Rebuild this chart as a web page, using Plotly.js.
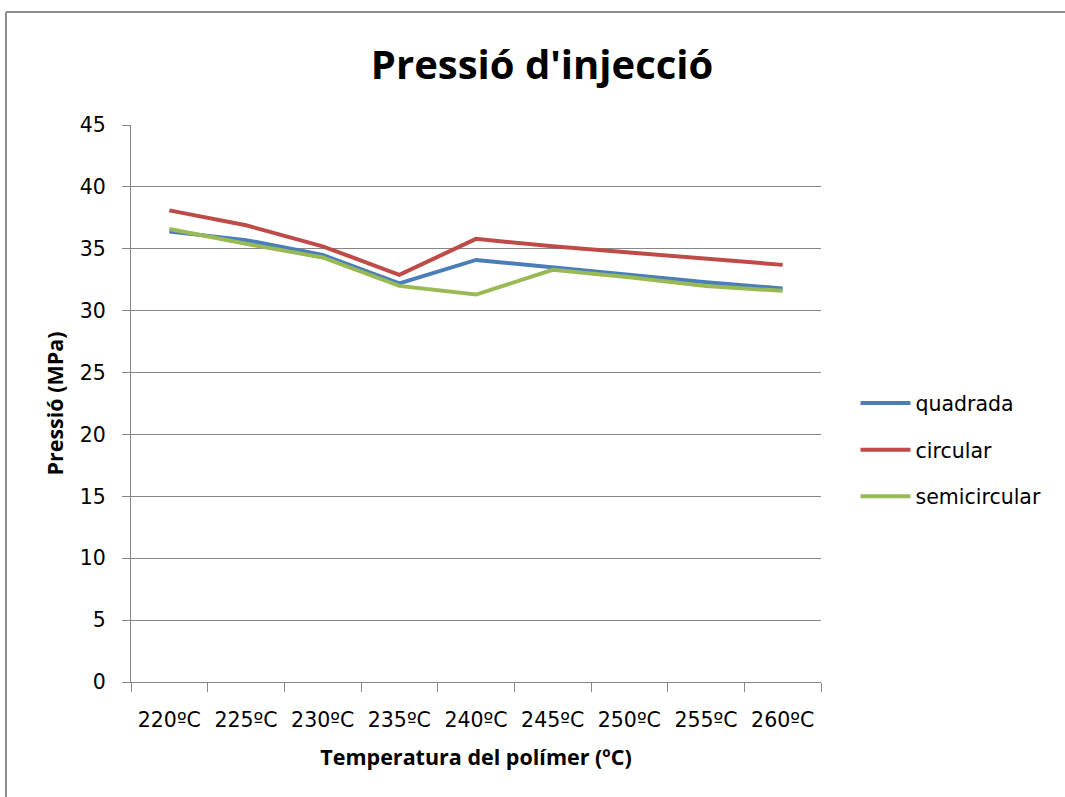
<!DOCTYPE html>
<html>
<head>
<meta charset="utf-8">
<script src="https://cdn.plot.ly/plotly-3.0.1.min.js"></script>
<style>
  html, body { margin: 0; padding: 0; background: #ffffff; }
  #chart { width: 1065px; height: 797px; }
</style>
</head>
<body>
<div id="chart"></div>
<script>
// Injection pressure (MPa) against polymer temperature, for three section shapes
const temperatures = ['220ºC', '225ºC', '230ºC', '235ºC', '240ºC', '245ºC', '250ºC', '255ºC', '260ºC'];
const quadrada     = [36.4, 35.7, 34.5, 32.2, 34.1, 33.5, 32.9, 32.3, 31.8];
const circular     = [38.1, 36.9, 35.2, 32.9, 35.8, 35.2, 34.7, 34.2, 33.7];
const semicircular = [36.6, 35.4, 34.3, 32.0, 31.3, 33.3, 32.7, 32.0, 31.6];
const yTicks = [0, 5, 10, 15, 20, 25, 30, 35, 40, 45];

const seriesNames  = ['quadrada', 'circular', 'semicircular'];
const seriesValues = [quadrada, circular, semicircular];
const seriesColors = ['#4a7ebb', '#be4b48', '#98b954'];

const TITLE_FONT = 'Open Sans, Noto Sans, sans-serif';
const TEXT_FONT = 'DejaVu Sans, Verdana, sans-serif';

const traces = seriesNames.map((name, i) => ({
  type: 'scatter',
  mode: 'lines',
  name: name,
  legendgroup: name,
  x: temperatures,
  y: seriesValues[i],
  line: { color: seriesColors[i], width: 4 },
  hoverinfo: 'x+y+name'
}));

const gridColor = '#868686';

const layout = {
  width: 1065,
  height: 797,
  margin: { l: 131, r: 244, t: 125, b: 115, pad: 0 },
  paper_bgcolor: '#ffffff',
  plot_bgcolor: '#ffffff',
  font: { family: TEXT_FONT, color: '#000000', size: 20 },
  title: {
    text: "<b>Pressió d'injecció</b>",
    font: { family: TITLE_FONT, size: 40, color: '#000000' },
    x: 0.509, xanchor: 'center', xref: 'container',
    y: 0.918, yanchor: 'middle', yref: 'container'
  },
  xaxis: {
    type: 'category',
    range: [-0.5, temperatures.length - 0.5],
    tickson: 'boundaries',
    ticks: 'outside',
    ticklen: 9,
    tickwidth: 1,
    tickcolor: gridColor,
    showline: true,
    linecolor: gridColor,
    linewidth: 1,
    showgrid: false,
    zeroline: false,
    tickfont: { family: TEXT_FONT, size: 20.5, color: '#000000' },
    ticklabelstandoff: 19,
    title: {
      text: '<b>Temperatura del polímer (ºC)</b>',
      font: { family: TITLE_FONT, size: 21.5, color: '#000000' },
      standoff: 19
    },
    fixedrange: true
  },
  yaxis: {
    range: [0, 45],
    tickvals: yTicks,
    ticktext: yTicks.map(String),
    ticks: 'outside',
    ticklen: 8,
    tickwidth: 1,
    tickcolor: gridColor,
    showline: true,
    linecolor: gridColor,
    linewidth: 1,
    showgrid: true,
    gridcolor: gridColor,
    gridwidth: 1,
    zeroline: false,
    tickfont: { family: TEXT_FONT, size: 20.5, color: '#000000' },
    ticklabelstandoff: 12,
    title: {
      text: '<b>Pressió (MPa)</b>',
      font: { family: TITLE_FONT, size: 21.5, color: '#000000' },
      standoff: 10
    },
    fixedrange: true
  },
  showlegend: true,
  legend: {
    x: 1.05, xanchor: 'left',
    y: 0.417, yanchor: 'middle',
    font: { family: TEXT_FONT, size: 20.5, color: '#000000' },
    tracegroupgap: 17,
    itemwidth: 50,
    bgcolor: 'rgba(0,0,0,0)'
  },
  // outer chart frame (top and left edges)
  shapes: [
    { type: 'line', xref: 'paper', yref: 'paper', x0: -0.1812, x1: 1.36, y0: 1.2029, y1: 1.2029,
      line: { color: '#8c8c8c', width: 2 } },
    { type: 'line', xref: 'paper', yref: 'paper', x0: -0.1812, x1: -0.1812, y0: 1.2029, y1: -0.21,
      line: { color: '#8c8c8c', width: 2 } }
  ]
};

Plotly.newPlot('chart', traces, layout, { displayModeBar: false, staticPlot: false });
</script>
</body>
</html>
